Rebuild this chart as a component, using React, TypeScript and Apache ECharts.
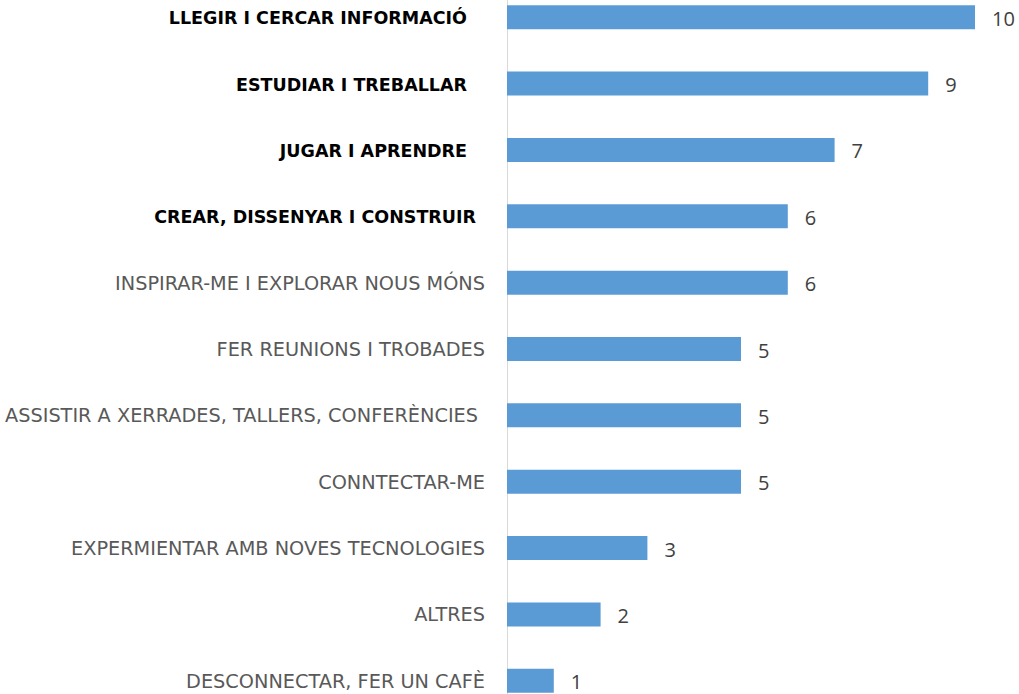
import React, { useEffect, useRef } from "react";
import * as echarts from "echarts";

const categories = [
  "LLEGIR I CERCAR INFORMACIÓ",
  "ESTUDIAR I TREBALLAR",
  "JUGAR I APRENDRE",
  "CREAR, DISSENYAR I CONSTRUIR",
  "INSPIRAR-ME I EXPLORAR NOUS MÓNS",
  "FER REUNIONS I TROBADES",
  "ASSISTIR A XERRADES, TALLERS, CONFERÈNCIES",
  "CONNTECTAR-ME",
  "EXPERMIENTAR AMB NOVES TECNOLOGIES",
  "ALTRES",
  "DESCONNECTAR, FER UN CAFÈ",
];
const values = [10, 9, 7, 6, 6, 5, 5, 5, 3, 2, 1];
const boldCount = 4;

export default function App() {
  const ref = useRef<HTMLDivElement>(null);
  useEffect(() => {
    if (!ref.current) return;
    const chart = echarts.init(ref.current, null, { renderer: "svg" });
    chart.setOption({
      animation: false,
      grid: { left: 507, right: 44, top: 0, bottom: 0, containLabel: false },
      xAxis: {
        type: "value",
        min: 0,
        max: 10,
        show: false,
      },
      yAxis: {
        type: "category",
        data: categories,
        inverse: true,
        axisLine: { show: true, lineStyle: { color: "#d9d9d9", width: 1 } },
        axisTick: { show: false },
        axisLabel: {
          margin: 22,
          formatter: (v: string, i: number) => {
            if (i === 3) return `{c|${v}}`;
            if (i < boldCount) return `{b|${v}}`;
            if (i === 6) return `{s|${v}}`;
            return `{n|${v}}`;
          },
          rich: {
            b: {
              fontFamily: "DejaVu Sans",
              fontWeight: "bold",
              fontSize: 17.5,
              color: "#000000",
              padding: [2, 18, 0, 0],
            },
            c: {
              fontFamily: "DejaVu Sans",
              fontWeight: "bold",
              fontSize: 17.5,
              color: "#000000",
              padding: [2, 9, 0, 0],
            },
            n: {
              fontFamily: "DejaVu Sans",
              fontSize: 19.3,
              color: "#595959",
              padding: [1, 0, 0, 0],
            },
            s: {
              fontFamily: "DejaVu Sans",
              fontSize: 19.3,
              color: "#595959",
              padding: [1, 7, 0, 0],
            },
          },
        },
      },
      series: [
        {
          type: "bar",
          data: values,
          barWidth: 24,
          itemStyle: { color: "#5b9bd5" },
          label: {
            show: true,
            position: "right",
            distance: 17,
            offset: [0, 1],
            fontFamily: "Open Sans",
            fontSize: 20,
            color: "#404040",
          },
        },
      ],
    });
    return () => chart.dispose();
  }, []);
  return (
    <div
      ref={ref}
      style={{ position: "fixed", left: 0, top: -16, width: 1019, height: 730, background: "#fff" }}
    />
  );
}
